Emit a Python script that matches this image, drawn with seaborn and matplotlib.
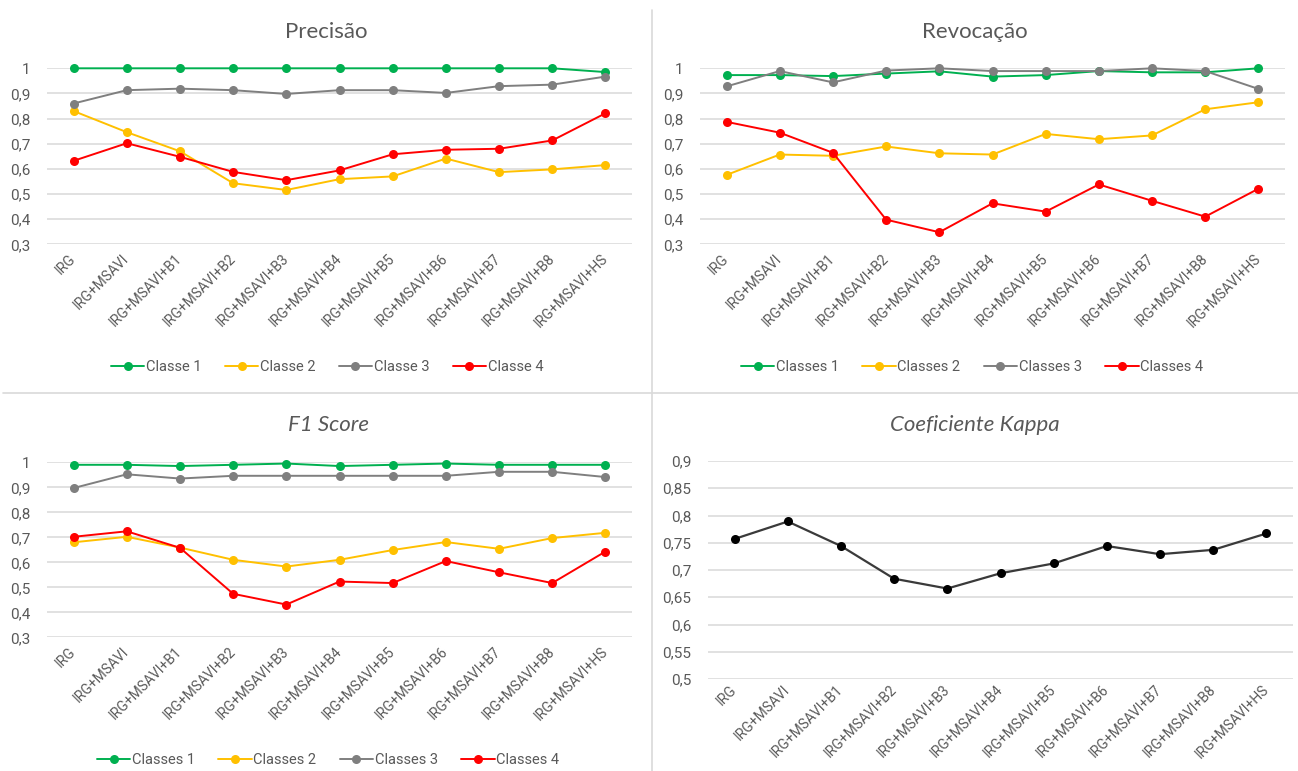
import numpy as np
import pandas as pd
import matplotlib
matplotlib.use("Agg")
import matplotlib.pyplot as plt
from matplotlib.lines import Line2D
from matplotlib.ticker import FuncFormatter, FixedLocator
import seaborn as sns

# ---- data -------------------------------------------------------------
configs = ["IRG", "IRG+MSAVI", "IRG+MSAVI+B1", "IRG+MSAVI+B2", "IRG+MSAVI+B3",
           "IRG+MSAVI+B4", "IRG+MSAVI+B5", "IRG+MSAVI+B6", "IRG+MSAVI+B7",
           "IRG+MSAVI+B8", "IRG+MSAVI+HS"]

prec_c1 = [1.0, 1.0, 1.0, 1.0, 1.0, 1.0, 1.0, 1.0, 1.0, 1.0, 0.985]
prec_c2 = [0.830, 0.746, 0.670, 0.543, 0.516, 0.559, 0.570, 0.641, 0.587, 0.598, 0.615]
prec_c3 = [0.860, 0.913, 0.919, 0.913, 0.898, 0.913, 0.913, 0.902, 0.929, 0.935, 0.967]
prec_c4 = [0.632, 0.702, 0.648, 0.588, 0.555, 0.594, 0.658, 0.676, 0.680, 0.713, 0.821]

rev_c1 = [0.973, 0.973, 0.969, 0.979, 0.988, 0.967, 0.973, 0.989, 0.984, 0.984, 1.0]
rev_c2 = [0.576, 0.657, 0.652, 0.689, 0.662, 0.657, 0.739, 0.718, 0.733, 0.837, 0.865]
rev_c3 = [0.928, 0.989, 0.944, 0.991, 1.0, 0.989, 0.989, 0.989, 1.0, 0.989, 0.918]
rev_c4 = [0.787, 0.744, 0.664, 0.398, 0.348, 0.463, 0.430, 0.538, 0.473, 0.410, 0.521]

f1_c1 = [0.990, 0.990, 0.985, 0.990, 0.995, 0.985, 0.990, 0.995, 0.990, 0.990, 0.990]
f1_c2 = [0.680, 0.702, 0.659, 0.610, 0.583, 0.610, 0.649, 0.681, 0.654, 0.697, 0.718]
f1_c3 = [0.897, 0.952, 0.935, 0.946, 0.946, 0.946, 0.946, 0.946, 0.962, 0.962, 0.941]
f1_c4 = [0.702, 0.724, 0.658, 0.474, 0.431, 0.523, 0.517, 0.605, 0.560, 0.517, 0.643]

kappa = [0.757, 0.789, 0.744, 0.684, 0.666, 0.694, 0.712, 0.744, 0.729, 0.737, 0.767]

class_labels_a = ["Classe 1", "Classe 2", "Classe 3", "Classe 4"]
class_labels_b = ["Classes 1", "Classes 2", "Classes 3", "Classes 4"]
class_colors = ["#00B050", "#FFC000", "#7F7F7F", "#FF0000"]

# ---- style ------------------------------------------------------------
sns.set_theme(style="white")
BODY = ["Roboto", "DejaVu Sans"]
TITLE = ["Lato", "DejaVu Sans"]
TXT = "#595959"
GRID = "#D9D9D9"

W, H = 1298, 771
fig = plt.figure(figsize=(W / 100, H / 100), dpi=100)
fig.patch.set_facecolor("white")


def px_axes(x0, y0, x1, y1):
    return fig.add_axes([x0 / W, 1 - y1 / H, (x1 - x0) / W, (y1 - y0) / H])


def comma_fmt(v, _pos):
    s = f"{v:.2f}".rstrip("0").rstrip(".")
    return s.replace(".", ",")


def style_axes(ax, yticks, ylim, xpad=9):
    ax.set_xlim(-0.5, len(configs) - 0.5)
    ax.set_ylim(*ylim)
    ax.yaxis.set_major_locator(FixedLocator(yticks))
    ax.yaxis.set_major_formatter(FuncFormatter(comma_fmt))
    ax.grid(axis="y", color=GRID, linewidth=1.1)
    ax.grid(axis="x", visible=False)
    for sp in ax.spines.values():
        sp.set_visible(False)
    ax.set_xlabel("")
    ax.set_ylabel("")
    ax.tick_params(axis="both", length=0)
    ax.tick_params(axis="y", pad=12)
    ax.tick_params(axis="x", pad=xpad)
    ax.set_xticks(range(len(configs)))
    ax.set_xticklabels(configs, rotation=45, ha="right", va="center",
                       rotation_mode="anchor")
    for lab in ax.get_xticklabels():
        lab.set_family(BODY)
        lab.set_fontsize(10)
        lab.set_color(TXT)
    for lab in ax.get_yticklabels():
        lab.set_family(BODY)
        lab.set_fontsize(11)
        lab.set_color(TXT)
    ax.set_axisbelow(True)


def class_panel(ax, series, labels, yticks, ylim):
    df = pd.DataFrame({
        "config": configs * len(series),
        "valor": np.concatenate(series),
        "classe": np.repeat(labels, len(configs)),
    })
    sns.lineplot(data=df, x="config", y="valor", hue="classe",
                 palette=dict(zip(labels, class_colors)), marker="o",
                 markersize=6.5, markeredgewidth=0, linewidth=1.4,
                 sort=False, legend=False, ax=ax)
    for ln in ax.lines:
        ln.set_clip_on(False)
    style_axes(ax, yticks, ylim)


def class_legend(labels, cx, cy):
    handles = [Line2D([0], [0], color=c, marker="o", markersize=6.5,
                      markeredgewidth=0, linewidth=1.4) for c in class_colors]
    fig.legend(handles, labels, loc="center", bbox_to_anchor=(cx / W, 1 - cy / H),
               ncol=4, frameon=False, handlelength=2.3, handletextpad=0.1,
               columnspacing=1.6, prop={"family": BODY, "size": 10.5},
               labelcolor=TXT)


yt7 = np.round(np.arange(0.3, 1.001, 0.1), 2)

# Precisão
ax1 = px_axes(47, 68.3, 632, 244.3)
class_panel(ax1, [prec_c1, prec_c2, prec_c3, prec_c4], class_labels_a, yt7, (0.3, 1.0))
fig.text(326 / W, 1 - 32 / H, "Precisão", ha="center", va="center",
         family=TITLE, fontsize=16, color=TXT)
class_legend(class_labels_a, 327, 367)

# Revocação
ax2 = px_axes(700, 68.3, 1285, 244.3)
class_panel(ax2, [rev_c1, rev_c2, rev_c3, rev_c4], class_labels_b, yt7, (0.3, 1.0))
fig.text(975 / W, 1 - 32 / H, "Revocação", ha="center", va="center",
         family=TITLE, fontsize=16, color=TXT)
class_legend(class_labels_b, 972, 367)

# F1 Score
ax3 = px_axes(47, 462.3, 632, 637.3)
class_panel(ax3, [f1_c1, f1_c2, f1_c3, f1_c4], class_labels_b, yt7, (0.3, 1.0))
fig.text(328 / W, 1 - 425 / H, "F1 Score", ha="center", va="center",
         family=TITLE, fontsize=16, color=TXT, style="italic")
class_legend(class_labels_b, 328, 760)

# Coeficiente Kappa
ax4 = px_axes(708, 461, 1293, 679)
kdf = pd.DataFrame({"config": configs, "kappa": kappa})
sns.lineplot(data=kdf, x="config", y="kappa", color="#3A3A3A", marker="o",
             markersize=6.5, markeredgewidth=0, markerfacecolor="black",
             linewidth=1.6, sort=False, ax=ax4)
for ln in ax4.lines:
    ln.set_clip_on(False)
style_axes(ax4, np.round(np.arange(0.5, 0.901, 0.05), 2), (0.5, 0.9), xpad=6)
fig.text(975 / W, 1 - 425 / H, "Coeficiente Kappa", ha="center", va="center",
         family=TITLE, fontsize=16, color=TXT, style="italic")

# panel dividers
fig.add_artist(Line2D([652 / W, 652 / W], [1 - 10 / H, 0], color=GRID,
                      linewidth=1.2, transform=fig.transFigure))
fig.add_artist(Line2D([3 / W, 1], [1 - 393 / H, 1 - 393 / H], color=GRID,
                      linewidth=1.2, transform=fig.transFigure))

fig.savefig("out.png", dpi=100, facecolor="white")
